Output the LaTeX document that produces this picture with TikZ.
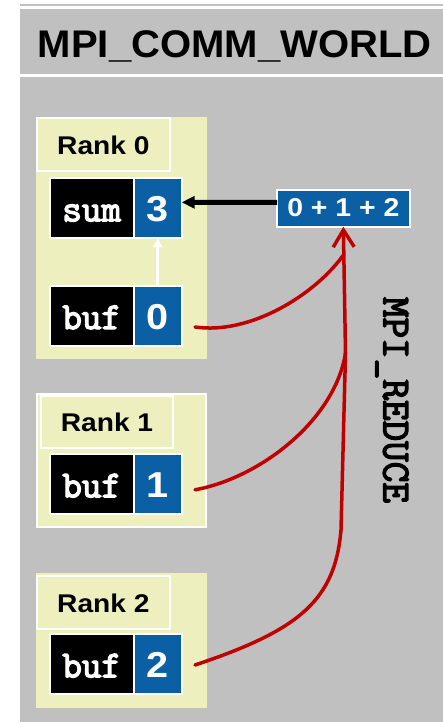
\documentclass[tikz,border=0pt]{standalone}
\usepackage{fontspec}
\setmainfont{Liberation Sans}
\newfontfamily\titlefont[FakeStretch=1.04]{Liberation Sans}
\newfontfamily\labelfont[FakeStretch=1.1]{Liberation Sans}
\newfontfamily\codefont[FakeBold=3.5]{Latin Modern Mono}
\usetikzlibrary{arrows.meta,calc}

\definecolor{worldgray}{RGB}{192,192,192}
\definecolor{rankyellow}{RGB}{238,239,190}
\definecolor{valblue}{RGB}{11,95,165}
\definecolor{reducered}{RGB}{192,0,0}

\tikzset{
  cell/.style={draw=white, line width=2pt, inner sep=0pt, outer sep=0pt,
    anchor=north west, minimum height=60pt, text height=26pt, text depth=0pt},
  namecell/.style={cell, fill=black, minimum width=84pt, text=white,
    font=\codefont\fontsize{38}{38}\selectfont},
  valcell/.style={cell, fill=valblue, minimum width=48pt, text=white,
    font=\labelfont\bfseries\fontsize{36}{36}\selectfont},
  rankpanel/.style={fill=rankyellow, inner sep=0pt, outer sep=0pt, anchor=north west},
  ranklabel/.style={draw=white, line width=2pt, fill=rankyellow, inner sep=0pt,
    outer sep=0pt, anchor=north west, text height=19.4pt, text depth=0pt,
    font=\labelfont\bfseries\fontsize{25.6}{25.6}\selectfont},
  resultbox/.style={draw=white, line width=2pt, fill=valblue, inner sep=0pt,
    outer sep=0pt, anchor=north west, text=white, text height=16.8pt, text depth=0pt,
    font=\labelfont\bfseries\fontsize{25.8}{25.8}\selectfont},
  redline/.style={draw=reducered, line width=3.5pt, line cap=round},
  copyarrow/.style={draw=white, line width=3pt, -{Triangle[length=9pt,width=9pt]}},
  resultarrow/.style={draw=black, line width=5pt, -{Triangle[length=13pt,width=12pt]}},
}

\begin{document}
\begin{tikzpicture}[x=1pt,y=-1pt]
  \useasboundingbox (0,0) rectangle (443,725);
  \fill[white] (0,0) rectangle (443,725);

  % communicator frame: thin top rule, title band, body
  \fill[worldgray] (20,4) rectangle (443,6);
  \fill[worldgray] (20,9.3) rectangle (443,74);
  \fill[worldgray] (20,77) rectangle (443,722);
  \node[font=\titlefont\bfseries\fontsize{38.5}{38.5}\selectfont, anchor=base]
    (title) at (234.7,57.3) {MPI\_COMM\_WORLD};

  % rank 0
  \node[rankpanel, minimum width=171pt, minimum height=242pt] (p0) at (36,117) {};
  \node[ranklabel, minimum width=132.7pt, minimum height=52.7pt] (r0) at (37,118.3) {Rank 0};
  \node[namecell] (sumname) at (49.7,178.3) {sum};
  \node[valcell] (sumval) at (133.7,178.3) {3};
  \node[namecell] (n0) at (49.7,286) {buf};
  \node[valcell] (v0) at (133.7,286) {0};

  % rank 1
  \node[rankpanel, draw=white, line width=2pt, minimum width=169.6pt, minimum height=133.3pt]
    (p1) at (36.7,393.7) {};
  \node[ranklabel, minimum width=132pt, minimum height=52.3pt] (r1) at (41,396) {Rank 1};
  \node[namecell] (n1) at (49.7,454.3) {buf};
  \node[valcell] (v1) at (133.7,454.3) {1};

  % rank 2
  \node[rankpanel, minimum width=171pt, minimum height=135.6pt] (p2) at (36,572.7) {};
  \node[ranklabel, minimum width=132.7pt, minimum height=53pt] (r2) at (37,576) {Rank 2};
  \node[namecell] (n2) at (49.7,634.3) {buf};
  \node[valcell] (v2) at (133.7,634.3) {2};

  % reduction result
  \node[resultbox, minimum width=132.7pt, minimum height=36.7pt] (res) at (277,190) {0 + 1 + 2};

  % operation name
  \node[font=\codefont\fontsize{40}{40}\selectfont, rotate=-90, anchor=base]
    (op) at (383.5,400) {MPI\_REDUCE};

  % local copy of buf into sum, result delivered to rank 0
  \draw[copyarrow] (v0.north) -- (sumval.south);
  \draw[resultarrow] ($(res.west)+(0,-6)$) -- ($(sumval.east)+(0,-6)$);

  % contributions gathered into the reduction
  \coordinate (j1) at (345.5,353);
  \coordinate (j0) at ($(res.south)!0.22!(j1)$);
  \draw[redline, -{Straight Barb[length=17pt,width=21pt]}] (j1) -- (res.south);
  \draw[redline] ($(v0.east)+(13.3,11)$) .. controls (250,335) and (315,295) .. (j0);
  \draw[redline] ($(v1.east)+(13.3,5.5)$) .. controls (260,478) and (335,420) .. (j1);
  \draw[redline] ($(v2.east)+(13.3,0.7)$) .. controls (300,630) and (335,600) .. (341,530) -- (j1);
\end{tikzpicture}
\end{document}
